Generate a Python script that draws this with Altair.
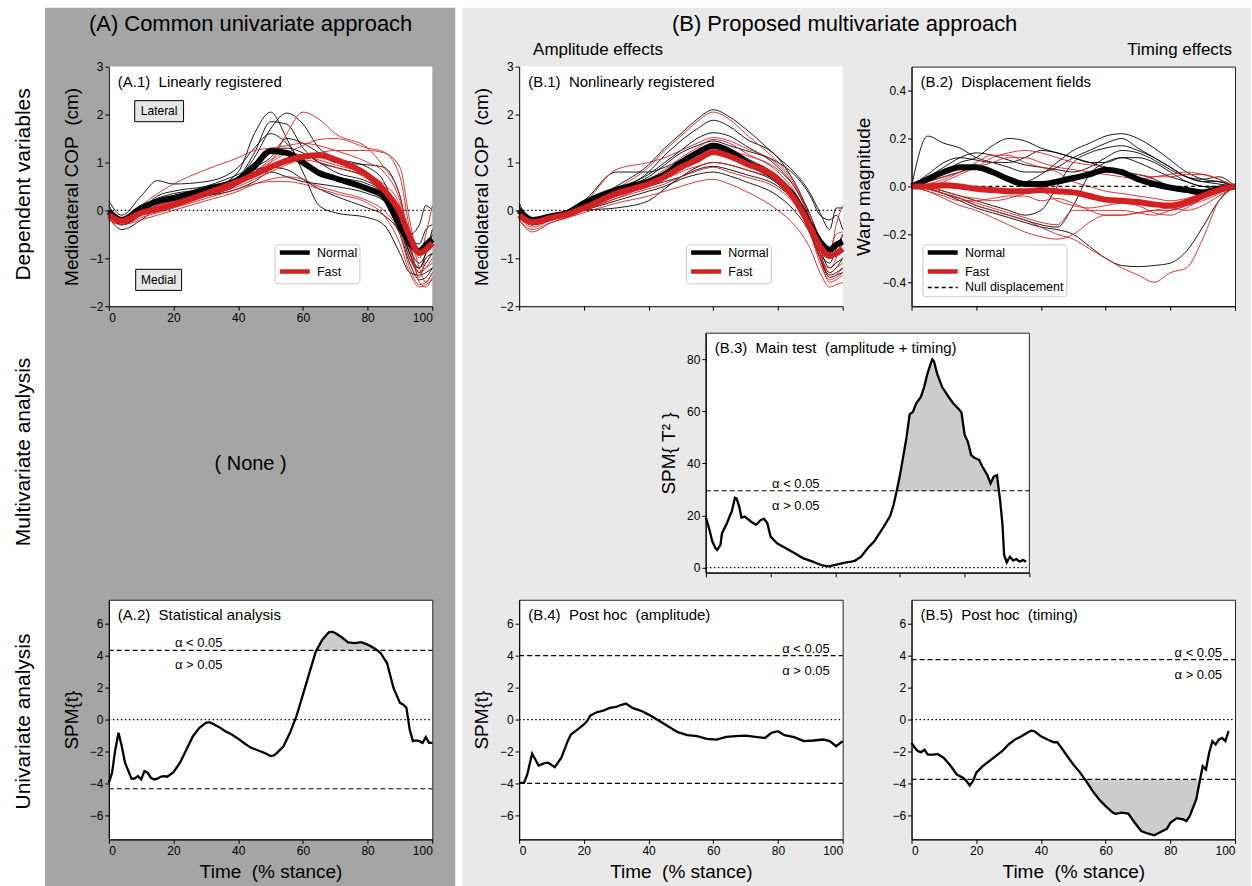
import altair as alt
import pandas as pd

FONT = "Liberation Sans"
RED = "#d42020"
DARK_BG = "#a5a5a5"
LIGHT_BG = "#e9e9e9"
SHADE = "#cccccc"
W, H = 324, 240
NB = "\u00a0"

GROUPS2 = ["Normal", "Fast"]
GROUPS3 = ["Normal", "Fast", "Null displacement"]

# ---------------- (A.1) linearly registered ----------------
XG = [0, 4, 10, 15, 20, 30, 40, 45, 50, 55, 60, 65, 70, 80, 85, 90, 93, 96, 98, 100]
A1_mean_normal = [-0.02, -0.2, 0.05, 0.19, 0.26, 0.43, 0.64, 0.92, 1.24, 1.2, 1.0, 0.78, 0.67, 0.45, 0.29, -0.33, -0.68, -0.85, -0.72, -0.6]
A1_mean_fast = [-0.1, -0.22, -0.05, 0.02, 0.12, 0.35, 0.6, 0.75, 0.9, 1.04, 1.12, 1.15, 1.06, 0.73, 0.43, -0.05, -0.54, -0.89, -0.82, -0.68]
A1_normal_thin = [
    [0.1, -0.2, 0.0, 0.15, 0.25, 0.4, 0.8, 1.6, 2.05, 1.5, 0.8, 0.1, -0.05, -0.15, -0.3, -0.9, -1.3, -1.35, -1.3, -1.2],
    [0.0, -0.25, 0.0, 0.3, 0.4, 0.5, 0.7, 1.1, 1.7, 2.03, 1.8, 1.3, 1.1, 0.9, 0.6, -0.3, -1.0, -1.2, -1.0, -0.9],
    [-0.1, -0.3, -0.05, 0.2, 0.3, 0.45, 0.7, 1.2, 1.85, 1.8, 1.3, 1.0, 0.9, 0.7, 0.5, -0.2, -0.8, -1.1, -0.9, -0.5],
    [0.2, -0.1, 0.3, 0.62, 0.55, 0.6, 0.9, 1.3, 1.6, 1.4, 1.0, 0.8, 0.7, 0.55, 0.35, -0.3, -0.9, -1.2, -0.9, -0.4],
    [0.0, -0.3, -0.1, 0.1, 0.2, 0.3, 0.45, 0.6, 0.8, 0.7, 0.6, 0.55, 0.5, 0.35, 0.2, -0.2, -0.9, -1.3, -1.1, -0.9],
    [-0.1, -0.2, 0.05, 0.25, 0.35, 0.45, 0.7, 1.0, 1.25, 1.3, 1.2, 1.0, 0.8, 0.6, 0.4, 0.0, -0.6, -0.7, -0.4, -0.3],
    [0.0, -0.25, 0.0, 0.2, 0.3, 0.5, 0.75, 0.9, 1.1, 1.5, 1.4, 1.2, 1.0, 0.95, 0.9, 0.3, -0.5, -0.3, 0.1, 0.0],
    [-0.15, -0.4, -0.2, 0.05, 0.15, 0.3, 0.55, 0.85, 0.9, 0.85, 0.65, 0.45, 0.3, 0.05, -0.1, -0.5, -1.1, -1.45, -1.4, -1.2],
]
A1_fast_thin = [
    [-0.1, -0.25, -0.1, 0.1, 0.2, 0.35, 0.55, 0.75, 1.0, 1.6, 2.05, 1.9, 1.6, 1.3, 0.9, 0.3, -0.7, -1.3, -1.2, -1.0],
    [-0.1, -0.2, -0.05, 0.05, 0.15, 0.35, 0.6, 0.8, 1.0, 1.2, 1.35, 1.48, 1.5, 1.3, 1.22, 0.7, -0.4, -1.2, -1.5, -1.3],
    [-0.05, -0.2, 0.1, 0.35, 0.55, 0.85, 1.1, 1.25, 1.3, 1.35, 1.4, 1.35, 1.25, 1.0, 0.8, 0.2, -0.6, -1.5, -1.6, -1.4],
    [-0.2, -0.3, -0.2, -0.1, 0.0, 0.2, 0.4, 0.55, 0.65, 0.7, 0.65, 0.5, 0.4, 0.2, 0.0, -0.5, -1.2, -1.55, -1.5, -1.3],
    [-0.15, -0.25, -0.1, 0.0, 0.1, 0.3, 0.5, 0.65, 0.8, 0.95, 1.1, 1.2, 1.25, 1.25, 1.2, 0.9, -0.2, -1.0, -0.5, 0.1],
    [-0.1, -0.2, -0.05, 0.05, 0.15, 0.4, 0.65, 0.8, 0.9, 1.0, 1.05, 1.0, 0.9, 0.65, 0.3, -0.4, -1.0, -1.3, -1.2, -1.1],
    [0.0, -0.15, 0.0, 0.1, 0.2, 0.4, 0.6, 0.8, 1.05, 1.2, 1.15, 1.05, 0.95, 0.75, 0.55, 0.1, -0.8, -1.4, -1.0, -0.9],
    [-0.2, -0.3, -0.15, -0.05, 0.05, 0.25, 0.45, 0.55, 0.6, 0.6, 0.55, 0.45, 0.35, 0.15, -0.1, -0.7, -1.3, -1.6, -1.55, -1.45],
]

# ---------------- (B.1) nonlinearly registered ----------------
B1_mean_normal = [0.0, -0.2, -0.12, -0.05, 0.15, 0.43, 0.6, 0.75, 1.0, 1.2, 1.35, 1.23, 1.02, 0.64, 0.29, -0.3, -0.65, -0.82, -0.72, -0.65]
B1_mean_fast = [-0.1, -0.25, -0.15, -0.08, 0.05, 0.35, 0.55, 0.7, 0.9, 1.05, 1.22, 1.13, 0.98, 0.65, 0.25, -0.35, -0.75, -0.95, -0.9, -0.8]
B1_normal_thin = [
    [0.05, -0.2, -0.1, -0.05, 0.1, 0.5, 0.95, 1.3, 1.6, 1.9, 2.1, 1.95, 1.7, 1.1, 0.8, 0.35, -0.05, -0.4, 0.05, 0.05],
    [0.1, -0.3, -0.15, -0.05, 0.1, 0.4, 0.8, 1.15, 1.45, 1.7, 1.88, 1.75, 1.5, 1.1, 0.6, -0.1, -0.6, -1.0, -0.9, -0.7],
    [0.0, -0.25, -0.15, -0.05, 0.1, 0.45, 0.75, 1.0, 1.25, 1.5, 1.62, 1.55, 1.35, 0.9, 0.5, -0.2, -0.8, -1.2, -1.1, -1.0],
    [0.15, -0.2, -0.1, 0.0, 0.2, 0.8, 0.8, 0.9, 1.05, 1.2, 1.4, 1.3, 1.1, 0.7, 0.3, -0.3, -0.9, -1.3, -1.2, -1.0],
    [0.0, -0.3, -0.2, -0.1, 0.0, 0.05, 0.2, 0.45, 0.7, 0.9, 1.0, 0.95, 0.85, 0.55, 0.2, -0.4, -1.0, -1.35, -1.3, -1.2],
    [-0.05, -0.3, -0.2, -0.1, 0.0, 0.2, 0.4, 0.5, 0.65, 0.75, 0.8, 0.72, 0.6, 0.3, 0.0, -0.5, -1.0, -1.4, -1.35, -1.3],
    [0.0, -0.25, -0.15, -0.05, 0.1, 0.3, 0.5, 0.6, 0.7, 0.85, 0.92, 0.85, 0.75, 0.5, 0.2, -0.4, -0.9, -1.1, -0.8, -0.5],
    [0.05, -0.2, -0.1, 0.0, 0.15, 0.45, 0.7, 0.95, 1.2, 1.35, 1.45, 1.35, 1.25, 1.0, 0.75, 0.3, -0.1, -0.2, -0.1, -0.4],
]
B1_fast_thin = [
    [-0.1, -0.3, -0.15, -0.1, 0.05, 0.45, 0.9, 1.25, 1.55, 1.85, 2.05, 1.9, 1.6, 1.0, 0.6, -0.2, -0.9, -1.3, -1.2, -1.1],
    [-0.15, -0.3, -0.15, -0.05, 0.15, 0.85, 1.0, 1.1, 1.25, 1.4, 1.52, 1.45, 1.3, 0.95, 0.55, -0.2, -0.9, -1.4, -1.35, -1.2],
    [-0.2, -0.4, -0.25, -0.15, -0.05, 0.15, 0.3, 0.4, 0.5, 0.6, 0.65, 0.55, 0.4, 0.0, -0.3, -0.8, -1.3, -1.6, -1.55, -1.5],
    [-0.1, -0.3, -0.2, -0.1, 0.05, 0.3, 0.55, 0.7, 0.9, 1.05, 1.2, 1.1, 0.95, 0.6, 0.2, -0.5, -1.1, -1.45, -1.4, -1.3],
    [-0.15, -0.35, -0.2, -0.1, 0.0, 0.25, 0.45, 0.55, 0.7, 0.82, 0.9, 0.8, 0.7, 0.45, 0.15, -0.4, -1.0, -1.2, -1.0, -0.5],
    [-0.05, -0.25, -0.15, -0.05, 0.1, 0.4, 0.65, 0.85, 1.1, 1.3, 1.48, 1.4, 1.2, 0.8, 0.4, -0.3, -1.0, -1.5, -1.45, -1.35],
    [-0.1, -0.3, -0.2, -0.1, 0.05, 0.3, 0.5, 0.65, 0.8, 0.92, 1.0, 0.95, 0.85, 0.6, 0.3, -0.3, -0.7, -0.9, -0.3, 0.1],
    [-0.2, -0.45, -0.25, -0.15, 0.0, 0.25, 0.55, 0.75, 0.95, 1.15, 1.3, 1.25, 1.15, 0.85, 0.5, -0.1, -0.6, -0.8, -0.5, -0.45],
]

# ---------------- (B.2) displacement fields ----------------
XW = [0, 5, 10, 15, 20, 25, 30, 35, 40, 45, 50, 55, 60, 65, 70, 75, 80, 85, 90, 95, 100]
B2_mean_normal = [0, 0.03, 0.06, 0.08, 0.08, 0.06, 0.03, 0.01, 0.01, 0.02, 0.035, 0.05, 0.07, 0.06, 0.03, 0.01, -0.005, -0.015, -0.025, -0.01, 0]
B2_mean_fast = [0, 0.0, 0.005, 0.0, -0.01, -0.015, -0.02, -0.02, -0.015, -0.02, -0.025, -0.04, -0.055, -0.06, -0.065, -0.075, -0.08, -0.065, -0.04, -0.015, 0]
B2_null = [0, 0, 0, 0, 0, 0, 0, 0, 0, 0, 0, 0, 0, 0, 0, 0, 0, 0, 0, 0, 0]
B2_normal_thin = [
    [0, 0.21, 0.18, 0.16, 0.12, 0.1, 0.08, 0.06, 0.06, 0.08, 0.12, 0.15, 0.18, 0.2, 0.16, 0.12, 0.08, 0.04, 0.02, 0.01, 0],
    [0, 0.03, 0.06, 0.1, 0.12, 0.17, 0.2, 0.19, 0.16, 0.14, 0.12, 0.1, 0.1, 0.12, 0.12, 0.1, 0.06, 0.02, 0.0, -0.01, 0],
    [0, 0.02, 0.04, 0.06, 0.08, 0.06, 0.04, 0.02, 0.05, 0.1, 0.15, 0.18, 0.21, 0.22, 0.2, 0.16, 0.11, 0.06, 0.03, 0.02, 0],
    [0, -0.01, -0.03, -0.06, -0.09, -0.11, -0.13, -0.15, -0.17, -0.18, -0.2, -0.25, -0.3, -0.33, -0.335, -0.33, -0.32, -0.27, -0.17, -0.06, 0],
    [0, 0.0, -0.02, -0.04, -0.06, -0.08, -0.1, -0.12, -0.1, 0.0, 0.1, 0.14, 0.16, 0.17, 0.15, 0.12, 0.08, 0.04, 0.02, 0.02, 0],
    [0, 0.04, 0.08, 0.12, 0.14, 0.13, 0.11, 0.09, 0.08, 0.07, 0.06, 0.08, 0.12, 0.15, 0.14, 0.11, 0.07, 0.04, 0.03, 0.04, 0],
    [0, -0.01, -0.03, -0.05, -0.08, -0.1, -0.12, -0.14, -0.16, -0.17, -0.08, 0.05, 0.1, 0.12, 0.1, 0.07, 0.04, 0.02, 0.0, 0.0, 0],
    [0, 0.05, 0.1, 0.12, 0.11, 0.1, 0.1, 0.12, 0.15, 0.14, 0.12, 0.1, 0.08, 0.06, 0.05, 0.03, 0.0, -0.02, -0.03, -0.02, 0],
]
B2_fast_thin = [
    [0, -0.01, -0.03, -0.05, -0.08, -0.1, -0.12, -0.14, -0.17, -0.2, -0.22, -0.26, -0.3, -0.34, -0.37, -0.4, -0.36, -0.34, -0.22, -0.06, 0],
    [0, 0.0, 0.02, 0.05, 0.08, 0.12, 0.14, 0.15, 0.14, 0.12, 0.1, 0.09, 0.08, 0.06, 0.05, 0.04, 0.04, 0.05, 0.05, 0.03, 0],
    [0, -0.02, -0.05, -0.08, -0.1, -0.13, -0.16, -0.19, -0.21, -0.22, -0.2, -0.15, -0.12, -0.12, -0.11, -0.1, -0.1, -0.08, -0.06, -0.03, 0],
    [0, -0.01, -0.03, -0.05, -0.07, -0.09, -0.11, -0.13, -0.15, -0.16, -0.1, -0.1, -0.1, -0.1, -0.11, -0.12, -0.1, -0.08, -0.05, -0.02, 0],
    [0, 0.01, 0.03, 0.06, 0.1, 0.13, 0.13, 0.1, 0.08, 0.06, 0.02, 0.0, -0.02, -0.03, -0.04, -0.05, -0.06, -0.05, -0.03, -0.01, 0],
    [0, -0.02, -0.04, -0.06, -0.06, -0.05, -0.04, -0.04, -0.06, -0.05, -0.07, -0.1, -0.12, -0.12, -0.11, -0.1, -0.09, -0.1, -0.08, -0.04, 0],
    [0, 0.02, 0.04, 0.06, 0.08, 0.1, 0.12, 0.12, 0.1, 0.08, 0.07, 0.06, 0.05, 0.04, 0.03, 0.04, 0.05, 0.06, 0.05, 0.03, 0],
    [0, -0.01, -0.02, -0.04, -0.05, -0.06, -0.05, -0.03, -0.02, -0.06, -0.08, -0.09, -0.08, -0.07, -0.08, -0.11, -0.12, -0.09, -0.05, -0.02, 0],
]

# ---------------- (B.3) main test SPM{T^2} ----------------
B3_x = [0, 1, 2, 3, 3.5, 4.5, 5, 6.5, 7.5, 8, 9, 9.5, 10.3, 11, 12, 14, 15.5, 17, 18, 19, 20, 22, 25, 28, 30, 33, 36, 38, 40, 43, 45, 46, 48, 50, 52, 55, 57, 58, 59, 60, 61, 62, 63, 64, 65, 66.5, 67.5, 68.5, 69.5, 70, 70.5, 71.5, 73, 75, 76.5, 78, 79, 80, 81, 82, 83, 84.5, 85.5, 87, 88, 89, 90, 91, 91.7, 92.2, 93, 94, 95, 96, 97, 98, 99]
B3_y = [19.2, 15, 10, 7.4, 6.8, 8.7, 13.2, 17, 20.2, 21.5, 26.8, 26.6, 23.4, 19.2, 19.6, 17.6, 16.4, 18.3, 18.7, 17, 11.9, 9.3, 7.2, 5.1, 3.6, 2.3, 0.8, 0.5, 1.0, 1.9, 2.3, 2.6, 4.2, 7.4, 10, 15.7, 19.9, 24, 29.4, 35.5, 42.6, 49.8, 58.8, 59.8, 63, 65.6, 69.4, 74.5, 78.3, 79.9, 79.2, 74.5, 69.4, 65.6, 63, 61.1, 59.6, 50.9, 48.3, 43.2, 42.2, 41.3, 38.7, 35.5, 32.3, 34.9, 35.5, 25.3, 16.4, 4.9, 2.0, 4.2, 2.7, 3.3, 2.3, 2.9, 2.3]
B3_thr = 29.5

# ---------------- (A.2) univariate SPM{t} ----------------
A2_x = [0, 1, 2, 3, 4, 5, 6, 7, 8, 9, 10, 11, 12, 13, 14, 15, 16, 17, 18, 19, 20, 22, 24, 26, 28, 30, 31, 32, 34, 36, 38, 40, 42, 44, 46, 48, 50, 51, 52, 54, 56, 58, 60, 62, 64, 66, 68, 69, 70, 72, 74, 76, 78, 80, 82, 84, 86, 88, 90, 91, 92, 93, 94, 95, 96, 97, 98, 99, 100]
A2_y = [-3.96, -3.33, -1.88, -0.83, -1.67, -2.7, -3.2, -3.7, -3.69, -3.54, -3.75, -3.23, -3.33, -3.65, -3.75, -3.7, -3.58, -3.54, -3.58, -3.44, -3.29, -2.7, -1.88, -1.04, -0.52, -0.2, -0.17, -0.25, -0.46, -0.73, -0.94, -1.2, -1.5, -1.77, -1.92, -2.08, -2.29, -2.25, -2.08, -1.67, -0.83, 0.21, 1.56, 2.92, 4.27, 5.0, 5.46, 5.5, 5.42, 5.15, 4.83, 4.79, 4.85, 4.69, 4.48, 4.17, 3.54, 1.98, 1.04, 0.94, 0.73, -0.63, -1.35, -1.31, -1.35, -1.46, -1.1, -1.46, -1.46]
A2_thr = 4.33

# ---------------- (B.4) post hoc amplitude ----------------
B4_x = [0, 1.5, 2.5, 4, 5, 6, 8, 9, 11, 13, 14, 15, 16, 18, 20, 21, 22, 24, 26, 28, 30, 31, 33, 35, 38, 40, 43, 46, 49, 52, 55, 58, 61, 64, 67, 70, 73, 76, 78, 80, 82, 85, 88, 91, 94, 96, 98, 100]
B4_y = [-3.96, -3.96, -3.44, -2.13, -2.5, -2.88, -2.71, -2.71, -2.98, -2.4, -1.88, -1.35, -0.94, -0.63, -0.31, -0.1, 0.25, 0.46, 0.56, 0.73, 0.79, 0.88, 1.0, 0.73, 0.52, 0.31, -0.04, -0.42, -0.79, -0.98, -1.04, -1.21, -1.25, -1.08, -1.04, -1.0, -1.08, -1.15, -0.83, -0.73, -0.98, -1.1, -1.35, -1.31, -1.25, -1.35, -1.67, -1.35]
B4_thr = 4.0

# ---------------- (B.5) post hoc timing ----------------
B5_x = [0, 1, 2, 3, 4, 5, 7, 8, 10, 12, 14, 16, 17, 18, 19, 20, 22, 24, 26, 28, 30, 32, 34, 36, 37, 38, 40, 42, 44, 45, 46, 48, 50, 52, 54, 56, 58, 60, 62, 63, 65, 67, 69, 71, 73, 75, 77, 79, 80, 82, 84, 85, 86, 87, 88, 89, 90, 91, 92, 93, 94, 95, 96, 97, 98]
B5_y = [-1.46, -1.77, -1.98, -2.04, -1.88, -2.19, -2.19, -2.15, -2.4, -2.88, -3.44, -3.65, -3.85, -4.13, -3.85, -3.33, -2.92, -2.6, -2.29, -1.98, -1.56, -1.25, -1.04, -0.79, -0.69, -0.73, -1.04, -1.25, -1.42, -1.42, -1.67, -2.25, -2.81, -3.29, -3.85, -4.48, -5.0, -5.42, -5.79, -5.9, -5.83, -5.88, -6.46, -6.98, -7.13, -7.25, -7.04, -6.83, -6.46, -6.17, -6.25, -6.35, -6.04, -5.52, -5.0, -3.96, -2.92, -3.13, -2.08, -1.35, -1.56, -1.25, -1.15, -1.35, -0.73]
B5_thr = 3.75

ONE = pd.DataFrame({"k": [0]})
NOVIEW = alt.ViewBackground(fill="transparent", stroke="transparent")


def long_df(xs, curves, group):
    rows = []
    for i, c in enumerate(curves):
        for x, y in zip(xs, c):
            rows.append({"x": x, "y": y, "group": group, "cid": f"{group}-{i}"})
    return pd.DataFrame(rows)


def xy_df(xs, ys):
    return pd.DataFrame(list(zip(xs, ys)), columns=["x", "y"])


def X(labels=True, title=None, rng=None):
    ax = alt.Axis(values=[0, 20, 40, 60, 80, 100], labels=labels, title=title, format="d",
                  zindex=1, labelOverlap=False, tickCount=12)
    if rng:
        sc = alt.Scale(domain=[0, 100], range=rng, nice=False, zero=False)
    else:
        sc = alt.Scale(domain=[0, 100], nice=False, zero=False)
    return alt.X("x:Q", scale=sc, axis=ax)


def Y(field, domain, values, title, fmt="d", offset=0):
    kw = dict(values=values, title=title, format=fmt, zindex=1, labelOverlap=False, tickCount=12)
    if offset:
        kw["offset"] = offset
    return alt.Y(f"{field}:Q", scale=alt.Scale(domain=domain, nice=False, zero=False), axis=alt.Axis(**kw))


def ptext(text, x, y, size, align="left", angle=0, baseline="alphabetic"):
    mk = dict(text=text, font=FONT, fontSize=size, align=align, baseline=baseline, color="black")
    if angle:
        mk["angle"] = angle
    return alt.Chart(ONE).mark_text(**mk).encode(x=alt.value(x), y=alt.value(y))


def prect(x, x2, y, y2, color, stroke=None):
    mk = dict(fill=color)
    if stroke:
        mk.update(stroke=stroke, strokeWidth=1)
    return alt.Chart(ONE).mark_rect(**mk).encode(
        x=alt.value(x), x2=alt.value(x2), y=alt.value(y), y2=alt.value(y2))


def legend(lx, ly, sw=4.5, dash=None):
    kw = dict(title=None, orient="none", legendX=lx, legendY=ly,
              symbolType="M-1,0H9", symbolSize=36, symbolStrokeWidth=sw,
              labelOffset=28, labelFontSize=12.5, labelFont=FONT, labelColor="black",
              fillColor="white", strokeColor="#c8c8c8", padding=2,
              cornerRadius=3, rowPadding=0)
    if dash is not None:
        kw["symbolDash"] = dash
    return alt.Legend(**kw)


def hrule(yv, dash, width=1.2):
    return alt.Chart(ONE).mark_rule(strokeDash=dash, strokeWidth=width, color="black").encode(
        x=alt.datum(0), x2=alt.datum(100), y=alt.datum(yv))


# ---------- COP panels (A.1, B.1) ----------
def cop_layers(xs, n_thin, f_thin, n_mean, f_mean, ytitle, xlabels, lx, ly):
    yenc = Y("y", [-2, 3], [-2, -1, 0, 1, 2, 3], ytitle)
    xenc = X(labels=xlabels)
    col = alt.Color("group:N", scale=alt.Scale(domain=GROUPS2, range=["black", RED]), legend=legend(lx, ly))
    means = pd.concat([long_df(xs, [n_mean], "Normal"), long_df(xs, [f_mean], "Fast")], ignore_index=True)
    return [
        alt.Chart(long_df(xs, n_thin, "Normal")).mark_line(
            strokeWidth=0.9, interpolate="monotone", color="black").encode(x=xenc, y=yenc, detail="cid:N"),
        alt.Chart(long_df(xs, f_thin, "Fast")).mark_line(
            strokeWidth=0.9, interpolate="monotone", color=RED).encode(x=xenc, y=yenc, detail="cid:N"),
        hrule(0, [1.5, 2.5], 1.3),
        alt.Chart(means).mark_line(strokeWidth=6, interpolate="monotone").encode(
            x=xenc, y=yenc, color=col, detail="cid:N"),
    ]


ylab_cop = "Mediolateral COP" + NB + NB + "(cm)"

A1 = alt.layer(
    prect(-108, 1144, -65, 821, "white"),
    prect(-64, 347, -59, 821, DARK_BG),
    prect(0, W, 0, H, "white"),
    *cop_layers(XG, A1_normal_thin, A1_fast_thin, A1_mean_normal, A1_mean_fast, ylab_cop, True, 166, 178),
    alt.Chart(ONE).mark_rect(fill="#e6e6e6", stroke="black", strokeWidth=1).encode(
        x=alt.datum(8.0), x2=alt.datum(23.1), y=alt.datum(2.29), y2=alt.datum(1.85)),
    alt.Chart(ONE).mark_text(text="Lateral", font=FONT, fontSize=12, baseline="middle", color="black").encode(
        x=alt.datum(15.55), y=alt.datum(2.07)),
    alt.Chart(ONE).mark_rect(fill="#e6e6e6", stroke="black", strokeWidth=1).encode(
        x=alt.datum(8.3), x2=alt.datum(22.5), y=alt.datum(-1.23), y2=alt.datum(-1.67)),
    alt.Chart(ONE).mark_text(text="Medial", font=FONT, fontSize=12, baseline="middle", color="black").encode(
        x=alt.datum(15.4), y=alt.datum(-1.45)),
    ptext("(A.1)" + NB + NB + "Linearly registered", 9, 20, 15),
    ptext("(A) Common univariate approach", 142, -36, 22, "center"),
    ptext("Dependent variables", -79, 118, 21, "center", angle=270),
    ptext("Multivariate analysis", -79, 386, 21, "center", angle=270),
    ptext("Univariate analysis", -79, 656, 21, "center", angle=270),
).properties(width=W, height=H)

B1 = alt.layer(
    prect(-57, 733, -59, 821, LIGHT_BG),
    prect(0, W, 0, H, "white"),
    *cop_layers(XG, B1_normal_thin, B1_fast_thin, B1_mean_normal, B1_mean_fast, ylab_cop, False, 167, 178),
    ptext("(B.1)" + NB + NB + "Nonlinearly registered", 9, 20, 15),
    ptext("(B) Proposed multivariate approach", 326, -36, 22, "center"),
    ptext("Amplitude effects", 79, -12, 17, "center"),
    ptext("Timing effects", 714, -12, 17, "right"),
).properties(width=W, height=H)

# ---------- B.2 ----------
lg3 = legend(11, 178,
             sw={"expr": "datum.value === 'Null displacement' ? 1.3 : 4.5"},
             dash={"expr": "datum.value === 'Null displacement' ? [4, 3] : [1, 0]"})
col3 = alt.Color("group:N", scale=alt.Scale(domain=GROUPS3, range=["black", RED, "black"]), legend=lg3)
y_b2 = Y("y", [-0.5, 0.5], [-0.4, -0.2, 0, 0.2, 0.4], "Warp magnitude", ".1f")
xb = X(labels=False)
b2_means = pd.concat([long_df(XW, [B2_mean_normal], "Normal"),
                      long_df(XW, [B2_mean_fast], "Fast")], ignore_index=True)

B2 = alt.layer(
    alt.Chart(long_df(XW, B2_normal_thin, "Normal")).mark_line(
        strokeWidth=0.9, interpolate="monotone", color="black").encode(x=xb, y=y_b2, detail="cid:N"),
    alt.Chart(long_df(XW, B2_fast_thin, "Fast")).mark_line(
        strokeWidth=0.9, interpolate="monotone", color=RED).encode(x=xb, y=y_b2, detail="cid:N"),
    alt.Chart(long_df(XW, [B2_null], "Null displacement")).mark_line(
        strokeWidth=1.3, strokeDash=[4, 3]).encode(x=xb, y=y_b2, color=col3, detail="cid:N"),
    alt.Chart(b2_means).mark_line(strokeWidth=6, interpolate="monotone").encode(
        x=xb, y=y_b2, color=col3, detail="cid:N"),
    ptext("(B.2)" + NB + NB + "Displacement fields", 9, 20, 15),
).properties(width=W, height=H)


# ---------- SPM panels ----------
def spm_panel(xs, ys, thr, domain, values, ytitle, label, xlabels, xtitle,
              shade_lo, shade_hi, upper, two_sided, ax_x, ax_align, xoff=0):
    df = xy_df(xs, ys)
    yenc = Y("y", domain, values, ytitle, offset=-xoff)
    xenc = X(labels=xlabels, title=xtitle, rng=[xoff, xoff + W] if xoff else None)
    layers = []
    if xoff:
        layers.append(prect(xoff, xoff + W, 0, H, "white", stroke="#222222"))
    if upper:
        area = alt.Chart(df).transform_filter(
            (alt.datum.x >= shade_lo) & (alt.datum.x <= shade_hi)
        ).transform_calculate(y=f"max(datum.y, {thr})").mark_area(color=SHADE).encode(
            x=xenc, y=yenc, y2=alt.datum(thr))
    else:
        area = alt.Chart(df).transform_filter(
            (alt.datum.x >= shade_lo) & (alt.datum.x <= shade_hi)
        ).transform_calculate(y=f"min(datum.y, {-thr})").mark_area(color=SHADE).encode(
            x=xenc, y=yenc, y2=alt.datum(-thr))
    layers += [area, hrule(0, [1.5, 2.5], 1.2), hrule(thr, [5, 3])]
    if two_sided:
        layers.append(hrule(-thr, [5, 3]))
    layers.append(alt.Chart(df).mark_line(strokeWidth=2.3, color="black").encode(x=xenc, y=yenc))
    layers.append(alt.Chart(ONE).mark_text(text="α < 0.05", font=FONT, fontSize=13, align=ax_align,
                                           dy=-7, color="black").encode(x=alt.datum(ax_x), y=alt.datum(thr)))
    layers.append(alt.Chart(ONE).mark_text(text="α > 0.05", font=FONT, fontSize=13, align=ax_align,
                                           dy=15, color="black").encode(x=alt.datum(ax_x), y=alt.datum(thr)))
    layers.append(ptext(label, xoff + 9, 20, 15))
    ch = alt.layer(*layers).properties(width=W, height=H)
    if xoff:
        ch = ch.properties(view=NOVIEW)
    return ch


TT = "Time" + NB + NB + "(% stance)"
SPMT = "SPM{t}"

A2 = spm_panel(A2_x, A2_y, A2_thr, [-7.5, 7.5], [-6, -4, -2, 0, 2, 4, 6], SPMT,
               "(A.2)" + NB + NB + "Statistical analysis", True, TT, 60, 90, True, True, 27.8, "center")
B3 = spm_panel(B3_x, B3_y, B3_thr, [-2, 90], [0, 20, 40, 60, 80], "SPM{" + NB + "T²" + NB + "}",
               "(B.3)" + NB + NB + "Main test" + NB + NB + "(amplitude + timing)", False, None,
               55, 95, True, False, 27.8, "center", xoff=187)
B4 = spm_panel(B4_x, B4_y, B4_thr, [-7.5, 7.5], [-6, -4, -2, 0, 2, 4, 6], SPMT,
               "(B.4)" + NB + NB + "Post hoc" + NB + NB + "(amplitude)", True, TT, 200, 201, True, True, 96, "right")
B5 = spm_panel(B5_x, B5_y, B5_thr, [-7.5, 7.5], [-6, -4, -2, 0, 2, 4, 6], None,
               "(B.5)" + NB + NB + "Post hoc" + NB + NB + "(timing)", True, TT, 50, 92, False, True, 96, "right")

NONE = ptext("( None )", 142, 137, 20, "center").properties(width=342, height=H, view=NOVIEW)
EMPTY = alt.Chart(ONE).mark_point(opacity=0).encode(x=alt.value(0), y=alt.value(0)).properties(
    width=1, height=1, view=NOVIEW)

chart = alt.concat(
    A1, B1, B2,
    NONE, B3, EMPTY,
    A2, B4, B5,
    columns=3, spacing={"row": 27, "column": 69}, bounds="flush", align="each",
    padding=0, background="white",
).resolve_scale(color="independent").resolve_legend(color="independent").configure(
    font=FONT
).configure_view(
    fill="white", stroke="#222222", strokeWidth=1
).configure_axis(
    labelFont=FONT, labelFontSize=12, labelColor="black", titleFont=FONT, titleFontSize=19,
    titleFontWeight="normal", titleColor="black", tickColor="black", domainColor="black",
    tickSize=4, grid=False, labelPadding=2, labelOverlap=False
).configure_axisY(titlePadding=8).configure_axisX(titlePadding=6)

chart.save("out.html", embed_options={"renderer": "svg", "actions": False})
